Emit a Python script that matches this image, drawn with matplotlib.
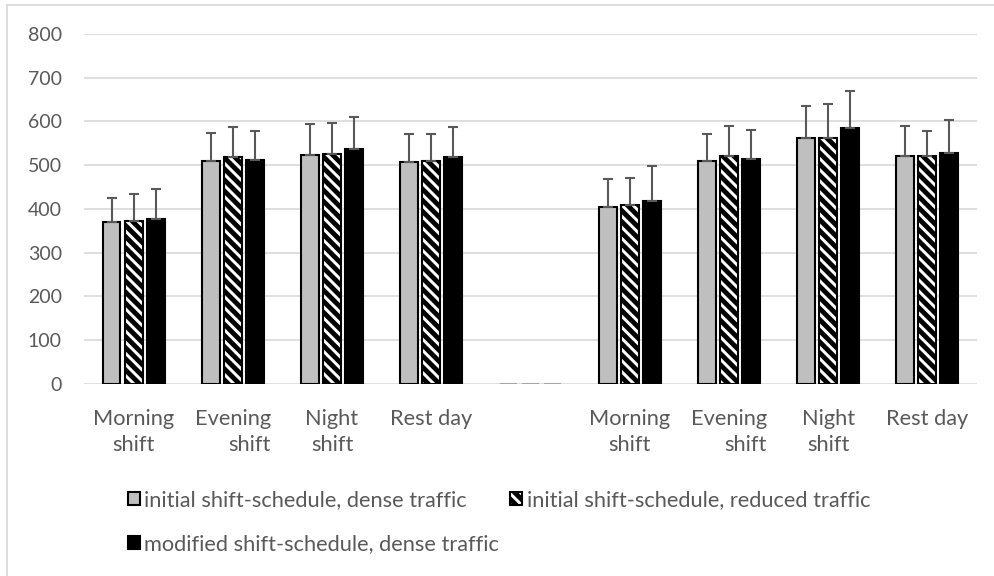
import numpy as np
import matplotlib.pyplot as plt
from matplotlib.lines import Line2D

# Valores (dos bloques de turnos, separados por una categoria vacia)
categories = ['Morning\nshift', 'Evening\nshift', 'Night\nshift', 'Rest day', '',
              'Morning\nshift', 'Evening\nshift', 'Night\nshift', 'Rest day']
initial_dense = [370, 509, 524, 507, 0, 404, 510, 563, 521]
initial_dense_err = [54, 65, 71, 64, 0, 65, 62, 72, 69]
initial_reduced = [373, 518, 525, 510, 0, 408, 520, 561, 520]
initial_reduced_err = [61, 69, 72, 61, 0, 62, 69, 79, 58]
modified_dense = [377, 512, 536, 519, 0, 418, 515, 584, 528]
modified_dense_err = [68, 65, 74, 68, 0, 79, 66, 86, 75]
series_names = ['initial shift-schedule, dense traffic',
                'initial shift-schedule, reduced traffic',
                'modified shift-schedule, dense traffic']

plt.rcParams['font.family'] = ['Lato', 'DejaVu Sans']
plt.rcParams['hatch.linewidth'] = 3.5
txt = '#595959'

fig = plt.figure(figsize=(9.95, 5.76), dpi=100)
ax = fig.add_axes([0.0844, 0.3333, 0.8975, 0.608])

x = np.arange(len(categories))
w = 0.18
step = 0.222
series = [
    (initial_dense, initial_dense_err, dict(color='#bfbfbf')),
    (initial_reduced, initial_reduced_err, dict(color='white', hatch='\\\\\\')),
    (modified_dense, modified_dense_err, dict(color='black')),
]
bars = []
for k, (vals, errs, style) in enumerate(series):
    vals = np.array(vals, dtype=float)
    errs = np.array(errs, dtype=float)
    pos = x + (k - 1) * step
    edges = ['#a6a6a6' if v == 0 else 'black' for v in vals]
    b = ax.bar(pos, vals, width=w, edgecolor=edges, linewidth=1.5,
               label=series_names[k], zorder=3, **style)
    bars.append(b)
    ok = vals > 0
    ax.errorbar(pos[ok], vals[ok], yerr=[np.zeros(ok.sum()), errs[ok]],
                fmt='none', ecolor='#595959', elinewidth=1.5, capsize=3.9,
                capthick=1.5, zorder=4)

ax.set_xlim(-0.5, len(categories) - 0.5)
ax.set_ylim(0, 800)
ax.set_yticks(np.arange(0, 801, 100))
ax.yaxis.grid(True, color='#d9d9d9', linewidth=1.2, zorder=0)
ax.set_axisbelow(True)
for s in ax.spines.values():
    s.set_visible(False)
ax.tick_params(length=0, colors=txt)
ax.tick_params(axis='y', labelsize=14, pad=16)
ax.tick_params(axis='x', labelsize=15.7, pad=18)
ax.set_xticks(x)
ax.set_xticklabels(categories)
for lab in ax.get_xticklabels():
    lab.set_linespacing(1.4)
    if lab.get_text().startswith('Evening'):
        lab.set_multialignment('right')

# orden por filas: 1 y 2 arriba, 3 abajo
order = [0, 2, 1]
leg = fig.legend([bars[i] for i in order], [series_names[i] for i in order],
                 loc='center left', bbox_to_anchor=(0.120, 0.094), ncol=2,
                 frameon=False, fontsize=15.7, labelcolor=txt,
                 handlelength=0.55, handleheight=0.55, handletextpad=0.2,
                 columnspacing=0.5, labelspacing=1.1, borderaxespad=0)

# marco exterior del grafico
fig.add_artist(Line2D([7 / 995, 1], [1 - 5 / 576] * 2, color='#d9d9d9', lw=1.2))
fig.add_artist(Line2D([7 / 995] * 2, [0, 1 - 5 / 576], color='#d9d9d9', lw=1.2))

fig.savefig('out.png', dpi=100)
plt.close()
